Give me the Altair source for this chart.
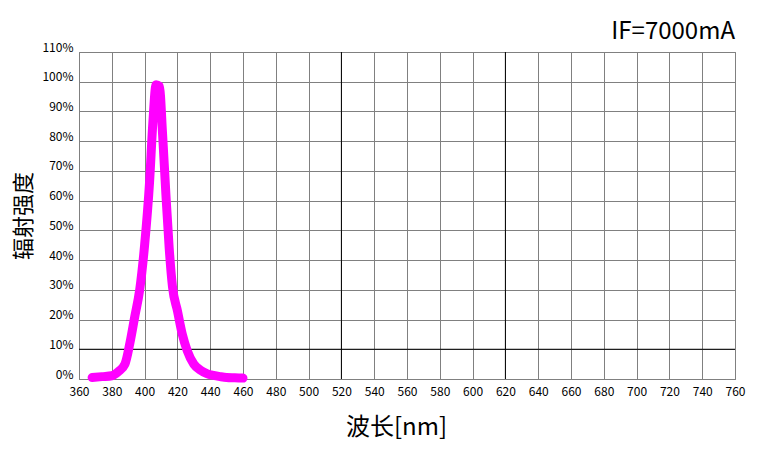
import altair as alt
import pandas as pd

wavelength = [368, 374, 380, 384, 388, 391, 394, 397, 400, 403, 405, 407, 409, 411, 413, 415, 417, 420, 423, 426, 430, 434, 438, 442, 446, 450, 455, 460]
intensity = [0.5, 0.8, 1.1, 2.5, 5.0, 12.0, 21.0, 30.0, 45.0, 66.0, 86.0, 99.0, 98.5, 82.0, 62.0, 44.0, 31.0, 23.0, 15.0, 9.5, 5.0, 3.0, 1.8, 1.2, 0.8, 0.5, 0.4, 0.3]

x_ticks = list(range(360, 761, 20))
y_ticks = list(range(0, 111, 10))
dark_x = [520, 620]
dark_y = [10]

FONT = "Noto Sans CJK SC"

df = pd.DataFrame({"wl": wavelength, "val": intensity})

x_scale = alt.Scale(domain=[360, 760], nice=False, zero=False)
y_scale = alt.Scale(domain=[0, 110], nice=False)

x_axis = alt.Axis(values=x_ticks, grid=True, gridColor="#808080", gridWidth=1,
                  ticks=False, domain=True, domainColor="#808080",
                  labelOverlap=False, labelFlush=False,
                  labelFont=FONT, labelFontSize=12, labelColor="#000000",
                  labelPadding=7, title="波长[nm]", titleFont=FONT,
                  titleFontSize=24, titleFontWeight="normal", titleColor="#000000",
                  titlePadding=18, titleX=317)
y_axis = alt.Axis(values=y_ticks, grid=True, gridColor="#808080", gridWidth=1,
                  ticks=False, domain=True, domainColor="#808080",
                  labelOverlap=False, labelFlush=False,
                  labelExpr="datum.value + '%'",
                  labelFont=FONT, labelFontSize=12, labelColor="#000000",
                  labelPadding=6, labelOffset=-5, title="辐射强度", titleFont=FONT,
                  titleFontSize=22, titleFontWeight="normal", titleColor="#000000",
                  titlePadding=6)

vrules = alt.Chart(pd.DataFrame({"x": dark_x})).mark_rule(color="#000000", strokeWidth=1).encode(
    x=alt.X("x:Q", scale=x_scale, axis=x_axis)
)
hrules = alt.Chart(pd.DataFrame({"y": dark_y})).mark_rule(color="#000000", strokeWidth=1).encode(
    y=alt.Y("y:Q", scale=y_scale, axis=y_axis)
)

line = alt.Chart(df).mark_line(
    color="#FF00FF", strokeWidth=9, strokeCap="round", strokeJoin="round", interpolate="monotone"
).encode(
    x=alt.X("wl:Q", scale=x_scale, axis=x_axis),
    y=alt.Y("val:Q", scale=y_scale, axis=y_axis),
)

chart = alt.layer(vrules, hrules, line).properties(
    width=656, height=327,
    title=alt.TitleParams("IF=7000mA", anchor="end", frame="group", font=FONT, fontSize=24,
                          fontWeight="normal", color="#000000", offset=-3),
    autosize=alt.AutoSizeParams(type="none"),
    padding={"left": 71, "top": 44, "right": 30, "bottom": 72},
).configure_view(stroke="#808080", strokeWidth=1)

chart.save("out.html", embed_options={"renderer": "svg", "actions": False})
